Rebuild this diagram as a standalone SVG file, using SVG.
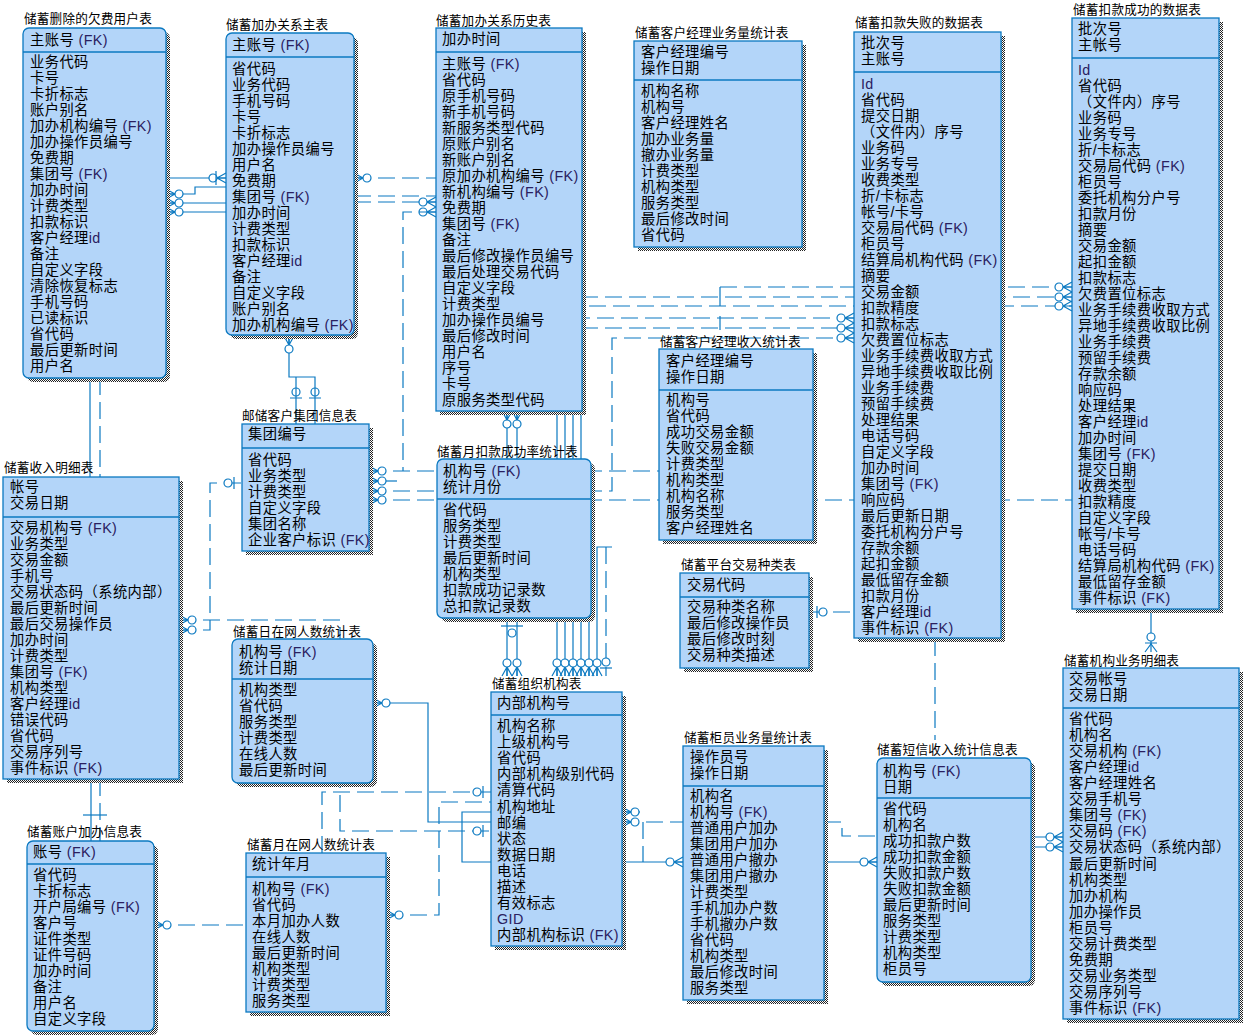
<svg xmlns="http://www.w3.org/2000/svg" xmlns:xlink="http://www.w3.org/1999/xlink" width="1244" height="1036" viewBox="0 0 1244 1036">
<style>
  text{font-family:"Liberation Sans","Noto Sans CJK SC",sans-serif;font-size:14.3px;letter-spacing:0.4px;fill:#000}
  .ttl{font-size:12.6px;letter-spacing:0.2px}
  .fk{fill:#2a2060}
  .bx{fill:#b3d5f9;stroke:#0b79c1;stroke-width:1.3}
  .sh{fill:url(#chk)}
  .sep{stroke:#0b79c1;stroke-width:1.3}
  .s{fill:none;stroke:#0b79c1;stroke-width:1.2}
  .d{fill:none;stroke:#0b79c1;stroke-width:1.2;stroke-dasharray:17 7}
</style>
<defs>
  <pattern id="chk" width="2" height="2" patternUnits="userSpaceOnUse">
    <rect width="2" height="2" fill="#fff"/>
    <rect width="1" height="1" fill="#222"/>
    <rect x="1" y="1" width="1" height="1" fill="#222"/>
  </pattern>
  <!-- zero-or-many: crow's foot at the entity edge, ring further out -->
  <g id="zm" fill="none" stroke="#0b79c1" stroke-width="1.2">
    <path d="M0,-5 L9,0 M0,5 L9,0 M0,0 H9"/>
    <circle cx="13" cy="0" r="4" fill="#fff"/>
  </g>
  <!-- zero-or-one: bar and ring -->
  <g id="zo" fill="none" stroke="#0b79c1" stroke-width="1.2">
    <path d="M8,-6 V6"/>
    <circle cx="14" cy="0" r="4" fill="#fff"/>
  </g>
</defs>
<rect width="1244" height="1036" fill="#fff"/>

<g id="connectors">
  <!-- 删除欠费用户表 / 加办关系主表 -->
  <path class="s" d="M166,178 H226"/>
  <use xlink:href="#zm" transform="translate(226,178) rotate(180)"/>
  <path class="s" d="M216,171 V185"/>
  <path class="s" d="M166,194 H195 V187 H226"/>
  <path class="s" d="M166,203 H226"/>
  <path class="s" d="M166,212 H226"/>
  <use xlink:href="#zm" transform="translate(166,194)"/>
  <use xlink:href="#zm" transform="translate(166,203)"/>
  <use xlink:href="#zm" transform="translate(166,212)"/>

  <!-- 加办关系主表 / 历史表 -->
  <path class="d" d="M354,178 H436"/>
  <use xlink:href="#zm" transform="translate(354,178)"/>
  <path class="d" d="M354,196 H436"/>
  <path class="d" d="M354,202 H436"/>
  <use xlink:href="#zm" transform="translate(436,202) rotate(180)"/>
  <use xlink:href="#zm" transform="translate(436,212) rotate(180)"/>
  <path class="d" d="M436,212 H403 V471"/>

  <!-- 加办关系主表 / 集团信息表 -->
  <path class="s" d="M289,336 V377 H315 V424 M296,377 V424"/>
  <use xlink:href="#zm" transform="translate(289,336) rotate(90)"/>
  <path class="s" d="M290,398 H302 M309,398 H321"/>
  <circle class="s" cx="296" cy="392" r="4" fill="#fff"/>
  <circle class="s" cx="315" cy="392" r="4" fill="#fff"/>

  <!-- 集团信息表 outgoing -->
  <path class="d" d="M369,471 H659"/>
  <path class="s" d="M369,481 H397"/>
  <path class="d" d="M369,491 H612 V338 H854"/>
  <path class="d" d="M369,500 H1072"/>
  <use xlink:href="#zm" transform="translate(369,471)"/>
  <use xlink:href="#zm" transform="translate(369,481)"/>
  <use xlink:href="#zm" transform="translate(369,491)"/>
  <use xlink:href="#zm" transform="translate(369,500)"/>

  <!-- 历史表 / 月扣款成功率统计表 -->
  <path class="s" d="M507,411 V459 M517,411 V459"/>
  <use xlink:href="#zm" transform="translate(507,411) rotate(90)"/>
  <use xlink:href="#zm" transform="translate(517,411) rotate(90)"/>

  <!-- 组织机构表 upward -->
  <path class="s" d="M507,618 V676 M517,618 V676"/>
  <path class="s" d="M501,626 H523"/>
  <circle cx="512" cy="633" r="4" fill="#fff" stroke="#0b79c1" stroke-width="1.2"/>
  <path class="s" d="M557,676 V297 M565,676 V306 M573,676 V318 M581,676 V328 M589,676 V618"/>
  <path class="d" d="M557,297 H1072 M565,306 H1072 M573,318 H854 M581,328 H854"/>
  <path class="d" d="M720,287 H1072"/>
  <path class="s" d="M720,287 V306 M720,316 V330"/>
  <path class="s" d="M597,676 V547 H612"/>
  <path class="d" d="M606,547 V676"/>
  <use xlink:href="#zm" transform="translate(507,676) rotate(-90)"/>
  <use xlink:href="#zm" transform="translate(517,676) rotate(-90)"/>
  <use xlink:href="#zm" transform="translate(557,676) rotate(-90)"/>
  <use xlink:href="#zm" transform="translate(565,676) rotate(-90)"/>
  <use xlink:href="#zm" transform="translate(573,676) rotate(-90)"/>
  <use xlink:href="#zm" transform="translate(581,676) rotate(-90)"/>
  <use xlink:href="#zm" transform="translate(589,676) rotate(-90)"/>
  <use xlink:href="#zm" transform="translate(597,676) rotate(-90)"/>
  <use xlink:href="#zo" transform="translate(606,676) rotate(-90)"/>
  <use xlink:href="#zm" transform="translate(854,318) rotate(180)"/>
  <use xlink:href="#zm" transform="translate(854,328) rotate(180)"/>
  <use xlink:href="#zm" transform="translate(854,338) rotate(180)"/>
  <use xlink:href="#zm" transform="translate(1072,287) rotate(180)"/>
  <use xlink:href="#zm" transform="translate(1072,297) rotate(180)"/>
  <use xlink:href="#zm" transform="translate(1072,306) rotate(180)"/>

  <!-- 平台交易种类表 -->
  <path class="d" d="M809,612 H854"/>
  <use xlink:href="#zo" transform="translate(809,612)"/>

  <!-- 扣款失败 / 短信收入 ; 扣款成功 / 机构业务明细 -->
  <path class="d" d="M935,639 V740"/>
  <path class="s" d="M1151,609 V652"/>
  <circle cx="1151" cy="637" r="4" fill="#fff" stroke="#0b79c1" stroke-width="1.2"/>
  <path class="s" d="M1145,652 L1151,644 L1157,652 M1145,643 H1157"/>

  <!-- 短信收入 / 机构业务明细 -->
  <path class="s" d="M1031,837 H1063 M1031,847 H1063"/>
  <use xlink:href="#zm" transform="translate(1063,837) rotate(180)"/>
  <use xlink:href="#zm" transform="translate(1063,847) rotate(180)"/>

  <!-- 柜员业务量 / 短信收入 -->
  <path class="s" d="M824,862 H877"/>
  <use xlink:href="#zm" transform="translate(877,862) rotate(180)"/>
  <path class="d" d="M824,822 H842 V836 H877"/>

  <!-- 组织机构表 / 柜员业务量 -->
  <path class="s" d="M622,812 H640"/>
  <path class="d" d="M622,822 H683"/>
  <path class="d" d="M643,822 V862"/>
  <path class="s" d="M622,862 H683"/>
  <use xlink:href="#zm" transform="translate(622,812)"/>
  <use xlink:href="#zm" transform="translate(622,822)"/>
  <use xlink:href="#zm" transform="translate(683,862) rotate(180)"/>

  <!-- 组织机构表 left side -->
  <path class="s" d="M373,703 H428 V822 H491"/>
  <use xlink:href="#zm" transform="translate(373,703)"/>
  <path class="s" d="M491,812 H462 V862 H491"/>
  <path class="d" d="M322,853 V792 H491"/>
  <path class="d" d="M179,620 H340 V831 H491"/>
  <use xlink:href="#zm" transform="translate(179,620)"/>
  <use xlink:href="#zo" transform="translate(491,792) rotate(180)"/>
  <use xlink:href="#zo" transform="translate(491,831) rotate(180)"/>
  <path class="d" d="M386,915 H439 V802 H491"/>
  <use xlink:href="#zm" transform="translate(386,915)"/>
  <path class="d" d="M154,925 H246"/>
  <use xlink:href="#zm" transform="translate(154,925)"/>

  <!-- 收入明细表 / 集团信息表 -->
  <path class="d" d="M179,630 H210 V483 H242"/>
  <use xlink:href="#zm" transform="translate(179,630)"/>
  <use xlink:href="#zo" transform="translate(242,483) rotate(180)"/>

  <!-- vertical links on the left column -->
  <path class="s" d="M90,378 V477 M91,779 V841"/>
  <path class="d" d="M100,378 V477 M100,779 V841"/>
  <path class="s" d="M83,815 H107"/>
</g>

<g id="t-del">
  <text class="ttl" x="24" y="22.5">储蓄删除的欠费用户表</text>
  <rect class="sh" x="27" y="32" width="143" height="350" rx="6"/>
  <rect class="bx" x="23" y="28" width="143" height="350" rx="6"/>
  <line class="sep" x1="23" y1="52" x2="166" y2="52"/>
  <text x="30" y="45">主账号 <tspan class="fk">(FK)</tspan></text>
  <text y="51">
    <tspan x="30" dy="16">业务代码</tspan><tspan x="30" dy="16">卡号</tspan><tspan x="30" dy="16">卡折标志</tspan><tspan x="30" dy="16">账户别名</tspan><tspan x="30" dy="16">加办机构编号 <tspan class="fk">(FK)</tspan></tspan><tspan x="30" dy="16">加办操作员编号</tspan><tspan x="30" dy="16">免费期</tspan><tspan x="30" dy="16">集团号 <tspan class="fk">(FK)</tspan></tspan><tspan x="30" dy="16">加办时间</tspan><tspan x="30" dy="16">计费类型</tspan><tspan x="30" dy="16">扣款标识</tspan><tspan x="30" dy="16">客户经理<tspan class="fk">id</tspan></tspan><tspan x="30" dy="16">备注</tspan><tspan x="30" dy="16">自定义字段</tspan><tspan x="30" dy="16">清除恢复标志</tspan><tspan x="30" dy="16">手机号码</tspan><tspan x="30" dy="16">已读标识</tspan><tspan x="30" dy="16">省代码</tspan><tspan x="30" dy="16">最后更新时间</tspan><tspan x="30" dy="16">用户名</tspan>
  </text>
</g>

<g id="t-main">
  <text class="ttl" x="226" y="28.5">储蓄加办关系主表</text>
  <rect class="sh" x="230" y="37" width="128" height="302" rx="6"/>
  <rect class="bx" x="226" y="33" width="128" height="302" rx="6"/>
  <line class="sep" x1="226" y1="57" x2="354" y2="57"/>
  <text x="232" y="50">主账号 <tspan class="fk">(FK)</tspan></text>
  <text y="58">
    <tspan x="232" dy="16">省代码</tspan><tspan x="232" dy="16">业务代码</tspan><tspan x="232" dy="16">手机号码</tspan><tspan x="232" dy="16">卡号</tspan><tspan x="232" dy="16">卡折标志</tspan><tspan x="232" dy="16">加办操作员编号</tspan><tspan x="232" dy="16">用户名</tspan><tspan x="232" dy="16">免费期</tspan><tspan x="232" dy="16">集团号 <tspan class="fk">(FK)</tspan></tspan><tspan x="232" dy="16">加办时间</tspan><tspan x="232" dy="16">计费类型</tspan><tspan x="232" dy="16">扣款标识</tspan><tspan x="232" dy="16">客户经理<tspan class="fk">id</tspan></tspan><tspan x="232" dy="16">备注</tspan><tspan x="232" dy="16">自定义字段</tspan><tspan x="232" dy="16">账户别名</tspan><tspan x="232" dy="16">加办机构编号 <tspan class="fk">(FK)</tspan></tspan>
  </text>
</g>

<g id="t-hist">
  <text class="ttl" x="436" y="24.5">储蓄加办关系历史表</text>
  <rect class="sh" x="440" y="32" width="146" height="383"/>
  <rect class="bx" x="436" y="28" width="146" height="383"/>
  <line class="sep" x1="436" y1="52" x2="582" y2="52"/>
  <text x="442" y="44">加办时间</text>
  <text y="53">
    <tspan x="442" dy="16">主账号 <tspan class="fk">(FK)</tspan></tspan><tspan x="442" dy="16">省代码</tspan><tspan x="442" dy="16">原手机号码</tspan><tspan x="442" dy="16">新手机号码</tspan><tspan x="442" dy="16">新服务类型代码</tspan><tspan x="442" dy="16">原账户别名</tspan><tspan x="442" dy="16">新账户别名</tspan><tspan x="442" dy="16">原加办机构编号 <tspan class="fk">(FK)</tspan></tspan><tspan x="442" dy="16">新机构编号 <tspan class="fk">(FK)</tspan></tspan><tspan x="442" dy="16">免费期</tspan><tspan x="442" dy="16">集团号 <tspan class="fk">(FK)</tspan></tspan><tspan x="442" dy="16">备注</tspan><tspan x="442" dy="16">最后修改操作员编号</tspan><tspan x="442" dy="16">最后处理交易代码</tspan><tspan x="442" dy="16">自定义字段</tspan><tspan x="442" dy="16">计费类型</tspan><tspan x="442" dy="16">加办操作员编号</tspan><tspan x="442" dy="16">最后修改时间</tspan><tspan x="442" dy="16">用户名</tspan><tspan x="442" dy="16">序号</tspan><tspan x="442" dy="16">卡号</tspan><tspan x="442" dy="16">原服务类型代码</tspan>
  </text>
</g>

<g id="t-mgr-vol">
  <text class="ttl" x="635" y="36.5">储蓄客户经理业务量统计表</text>
  <rect class="sh" x="638" y="45" width="168" height="206"/>
  <rect class="bx" x="634" y="41" width="168" height="206"/>
  <line class="sep" x1="634" y1="80" x2="802" y2="80"/>
  <text y="41"><tspan x="641" dy="16">客户经理编号</tspan><tspan x="641" dy="16">操作日期</tspan></text>
  <text y="80">
    <tspan x="641" dy="16">机构名称</tspan><tspan x="641" dy="16">机构号</tspan><tspan x="641" dy="16">客户经理姓名</tspan><tspan x="641" dy="16">加办业务量</tspan><tspan x="641" dy="16">撤办业务量</tspan><tspan x="641" dy="16">计费类型</tspan><tspan x="641" dy="16">机构类型</tspan><tspan x="641" dy="16">服务类型</tspan><tspan x="641" dy="16">最后修改时间</tspan><tspan x="641" dy="16">省代码</tspan>
  </text>
</g>

<g id="t-fail">
  <text class="ttl" x="855" y="26.5">储蓄扣款失败的数据表</text>
  <rect class="sh" x="858" y="36" width="147" height="606"/>
  <rect class="bx" x="854" y="32" width="147" height="606"/>
  <line class="sep" x1="854" y1="72" x2="1001" y2="72"/>
  <text y="32"><tspan x="861" dy="16">批次号</tspan><tspan x="861" dy="16">主账号</tspan></text>
  <text y="73">
    <tspan x="861" dy="16" class="fk">Id</tspan><tspan x="861" dy="16">省代码</tspan><tspan x="861" dy="16">提交日期</tspan><tspan x="861" dy="16">（文件内）序号</tspan><tspan x="861" dy="16">业务码</tspan><tspan x="861" dy="16">业务专号</tspan><tspan x="861" dy="16">收费类型</tspan><tspan x="861" dy="16">折/卡标志</tspan><tspan x="861" dy="16">帐号/卡号</tspan><tspan x="861" dy="16">交易局代码 <tspan class="fk">(FK)</tspan></tspan><tspan x="861" dy="16">柜员号</tspan><tspan x="861" dy="16">结算局机构代码 <tspan class="fk">(FK)</tspan></tspan><tspan x="861" dy="16">摘要</tspan><tspan x="861" dy="16">交易金额</tspan><tspan x="861" dy="16">扣款精度</tspan><tspan x="861" dy="16">扣款标志</tspan><tspan x="861" dy="16">欠费置位标志</tspan><tspan x="861" dy="16">业务手续费收取方式</tspan><tspan x="861" dy="16">异地手续费收取比例</tspan><tspan x="861" dy="16">业务手续费</tspan><tspan x="861" dy="16">预留手续费</tspan><tspan x="861" dy="16">处理结果</tspan><tspan x="861" dy="16">电话号码</tspan><tspan x="861" dy="16">自定义字段</tspan><tspan x="861" dy="16">加办时间</tspan><tspan x="861" dy="16">集团号 <tspan class="fk">(FK)</tspan></tspan><tspan x="861" dy="16">响应码</tspan><tspan x="861" dy="16">最后更新日期</tspan><tspan x="861" dy="16">委托机构分户号</tspan><tspan x="861" dy="16">存款余额</tspan><tspan x="861" dy="16">起扣金额</tspan><tspan x="861" dy="16">最低留存金额</tspan><tspan x="861" dy="16">扣款月份</tspan><tspan x="861" dy="16">客户经理<tspan class="fk">id</tspan></tspan><tspan x="861" dy="16">事件标识 <tspan class="fk">(FK)</tspan></tspan>
  </text>
</g>

<g id="t-ok">
  <text class="ttl" x="1073" y="13.5">储蓄扣款成功的数据表</text>
  <rect class="sh" x="1076" y="22" width="147" height="591"/>
  <rect class="bx" x="1072" y="18" width="147" height="591"/>
  <line class="sep" x1="1072" y1="58" x2="1219" y2="58"/>
  <text y="18"><tspan x="1078" dy="16">批次号</tspan><tspan x="1078" dy="16">主帐号</tspan></text>
  <text y="59">
    <tspan x="1078" dy="16" class="fk">Id</tspan><tspan x="1078" dy="16">省代码</tspan><tspan x="1078" dy="16">（文件内）序号</tspan><tspan x="1078" dy="16">业务码</tspan><tspan x="1078" dy="16">业务专号</tspan><tspan x="1078" dy="16">折/卡标志</tspan><tspan x="1078" dy="16">交易局代码 <tspan class="fk">(FK)</tspan></tspan><tspan x="1078" dy="16">柜员号</tspan><tspan x="1078" dy="16">委托机构分户号</tspan><tspan x="1078" dy="16">扣款月份</tspan><tspan x="1078" dy="16">摘要</tspan><tspan x="1078" dy="16">交易金额</tspan><tspan x="1078" dy="16">起扣金额</tspan><tspan x="1078" dy="16">扣款标志</tspan><tspan x="1078" dy="16">欠费置位标志</tspan><tspan x="1078" dy="16">业务手续费收取方式</tspan><tspan x="1078" dy="16">异地手续费收取比例</tspan><tspan x="1078" dy="16">业务手续费</tspan><tspan x="1078" dy="16">预留手续费</tspan><tspan x="1078" dy="16">存款余额</tspan><tspan x="1078" dy="16">响应码</tspan><tspan x="1078" dy="16">处理结果</tspan><tspan x="1078" dy="16">客户经理<tspan class="fk">id</tspan></tspan><tspan x="1078" dy="16">加办时间</tspan><tspan x="1078" dy="16">集团号 <tspan class="fk">(FK)</tspan></tspan><tspan x="1078" dy="16">提交日期</tspan><tspan x="1078" dy="16">收费类型</tspan><tspan x="1078" dy="16">扣款精度</tspan><tspan x="1078" dy="16">自定义字段</tspan><tspan x="1078" dy="16">帐号/卡号</tspan><tspan x="1078" dy="16">电话号码</tspan><tspan x="1078" dy="16">结算局机构代码 <tspan class="fk">(FK)</tspan></tspan><tspan x="1078" dy="16">最低留存金额</tspan><tspan x="1078" dy="16">事件标识 <tspan class="fk">(FK)</tspan></tspan>
  </text>
</g>

<g id="t-income">
  <text class="ttl" x="4" y="471.5">储蓄收入明细表</text>
  <rect class="sh" x="7" y="481" width="176" height="302"/>
  <rect class="bx" x="3" y="477" width="176" height="302"/>
  <line class="sep" x1="3" y1="517" x2="179" y2="517"/>
  <text y="476"><tspan x="10" dy="16">帐号</tspan><tspan x="10" dy="16">交易日期</tspan></text>
  <text y="517">
    <tspan x="10" dy="16">交易机构号 <tspan class="fk">(FK)</tspan></tspan><tspan x="10" dy="16">业务类型</tspan><tspan x="10" dy="16">交易金额</tspan><tspan x="10" dy="16">手机号</tspan><tspan x="10" dy="16">交易状态码（系统内部）</tspan><tspan x="10" dy="16">最后更新时间</tspan><tspan x="10" dy="16">最后交易操作员</tspan><tspan x="10" dy="16">加办时间</tspan><tspan x="10" dy="16">计费类型</tspan><tspan x="10" dy="16">集团号 <tspan class="fk">(FK)</tspan></tspan><tspan x="10" dy="16">机构类型</tspan><tspan x="10" dy="16">客户经理<tspan class="fk">id</tspan></tspan><tspan x="10" dy="16">错误代码</tspan><tspan x="10" dy="16">省代码</tspan><tspan x="10" dy="16">交易序列号</tspan><tspan x="10" dy="16">事件标识 <tspan class="fk">(FK)</tspan></tspan>
  </text>
</g>

<g id="t-group">
  <text class="ttl" x="242" y="419.5">邮储客户集团信息表</text>
  <rect class="sh" x="246" y="428" width="127" height="127"/>
  <rect class="bx" x="242" y="424" width="127" height="127"/>
  <line class="sep" x1="242" y1="448" x2="369" y2="448"/>
  <text x="248" y="439">集团编号</text>
  <text y="449">
    <tspan x="248" dy="16">省代码</tspan><tspan x="248" dy="16">业务类型</tspan><tspan x="248" dy="16">计费类型</tspan><tspan x="248" dy="16">自定义字段</tspan><tspan x="248" dy="16">集团名称</tspan><tspan x="248" dy="16">企业客户标识 <tspan class="fk">(FK)</tspan></tspan>
  </text>
</g>

<g id="t-rate">
  <text class="ttl" x="437" y="455.5">储蓄月扣款成功率统计表</text>
  <rect class="sh" x="441" y="463" width="154" height="159" rx="6"/>
  <rect class="bx" x="437" y="459" width="154" height="159" rx="6"/>
  <line class="sep" x1="437" y1="499" x2="591" y2="499"/>
  <text y="460"><tspan x="443" dy="16">机构号 <tspan class="fk">(FK)</tspan></tspan><tspan x="443" dy="16">统计月份</tspan></text>
  <text y="499">
    <tspan x="443" dy="16">省代码</tspan><tspan x="443" dy="16">服务类型</tspan><tspan x="443" dy="16">计费类型</tspan><tspan x="443" dy="16">最后更新时间</tspan><tspan x="443" dy="16">机构类型</tspan><tspan x="443" dy="16">扣款成功记录数</tspan><tspan x="443" dy="16">总扣款记录数</tspan>
  </text>
</g>

<g id="t-mgr-inc">
  <text class="ttl" x="660" y="345.5">储蓄客户经理收入统计表</text>
  <rect class="sh" x="663" y="353" width="154" height="191"/>
  <rect class="bx" x="659" y="349" width="154" height="191"/>
  <line class="sep" x1="659" y1="390" x2="813" y2="390"/>
  <text y="350"><tspan x="666" dy="16">客户经理编号</tspan><tspan x="666" dy="16">操作日期</tspan></text>
  <text y="389">
    <tspan x="666" dy="16">机构号</tspan><tspan x="666" dy="16">省代码</tspan><tspan x="666" dy="16">成功交易金额</tspan><tspan x="666" dy="16">失败交易金额</tspan><tspan x="666" dy="16">计费类型</tspan><tspan x="666" dy="16">机构类型</tspan><tspan x="666" dy="16">机构名称</tspan><tspan x="666" dy="16">服务类型</tspan><tspan x="666" dy="16">客户经理姓名</tspan>
  </text>
</g>

<g id="t-trade">
  <text class="ttl" x="681" y="568.5">储蓄平台交易种类表</text>
  <rect class="sh" x="684" y="577" width="129" height="95"/>
  <rect class="bx" x="680" y="573" width="129" height="95"/>
  <line class="sep" x1="680" y1="597" x2="809" y2="597"/>
  <text x="687" y="590">交易代码</text>
  <text y="596">
    <tspan x="687" dy="16">交易种类名称</tspan><tspan x="687" dy="16">最后修改操作员</tspan><tspan x="687" dy="16">最后修改时刻</tspan><tspan x="687" dy="16">交易种类描述</tspan>
  </text>
</g>

<g id="t-day">
  <text class="ttl" x="233" y="635.5">储蓄日在网人数统计表</text>
  <rect class="sh" x="236" y="643" width="141" height="144" rx="6"/>
  <rect class="bx" x="232" y="639" width="141" height="144" rx="6"/>
  <line class="sep" x1="232" y1="679" x2="373" y2="679"/>
  <text y="640.5"><tspan x="239" dy="16">机构号 <tspan class="fk">(FK)</tspan></tspan><tspan x="239" dy="16">统计日期</tspan></text>
  <text y="679">
    <tspan x="239" dy="16">机构类型</tspan><tspan x="239" dy="16">省代码</tspan><tspan x="239" dy="16">服务类型</tspan><tspan x="239" dy="16">计费类型</tspan><tspan x="239" dy="16">在线人数</tspan><tspan x="239" dy="16">最后更新时间</tspan>
  </text>
</g>

<g id="t-acct">
  <text class="ttl" x="27" y="835.5">储蓄账户加办信息表</text>
  <rect class="sh" x="31" y="845" width="127" height="190" rx="6"/>
  <rect class="bx" x="27" y="841" width="127" height="190" rx="6"/>
  <line class="sep" x1="27" y1="864" x2="154" y2="864"/>
  <text x="33" y="857">账号 <tspan class="fk">(FK)</tspan></text>
  <text y="864">
    <tspan x="33" dy="16">省代码</tspan><tspan x="33" dy="16">卡折标志</tspan><tspan x="33" dy="16">开户局编号 <tspan class="fk">(FK)</tspan></tspan><tspan x="33" dy="16">客户号</tspan><tspan x="33" dy="16">证件类型</tspan><tspan x="33" dy="16">证件号码</tspan><tspan x="33" dy="16">加办时间</tspan><tspan x="33" dy="16">备注</tspan><tspan x="33" dy="16">用户名</tspan><tspan x="33" dy="16">自定义字段</tspan>
  </text>
</g>

<g id="t-month">
  <text class="ttl" x="247" y="848.5">储蓄月在网人数统计表</text>
  <rect class="sh" x="250" y="857" width="140" height="159"/>
  <rect class="bx" x="246" y="853" width="140" height="159"/>
  <line class="sep" x1="246" y1="877" x2="386" y2="877"/>
  <text x="252" y="869">统计年月</text>
  <text y="878">
    <tspan x="252" dy="16">机构号 <tspan class="fk">(FK)</tspan></tspan><tspan x="252" dy="16">省代码</tspan><tspan x="252" dy="16">本月加办人数</tspan><tspan x="252" dy="16">在线人数</tspan><tspan x="252" dy="16">最后更新时间</tspan><tspan x="252" dy="16">机构类型</tspan><tspan x="252" dy="16">计费类型</tspan><tspan x="252" dy="16">服务类型</tspan>
  </text>
</g>

<g id="t-org">
  <text class="ttl" x="492" y="687.5">储蓄组织机构表</text>
  <rect class="sh" x="495" y="696" width="131" height="254"/>
  <rect class="bx" x="491" y="692" width="131" height="254"/>
  <line class="sep" x1="491" y1="715" x2="622" y2="715"/>
  <text x="497" y="708">内部机构号</text>
  <text y="715">
    <tspan x="497" dy="16">机构名称</tspan><tspan x="497" dy="16.1">上级机构号</tspan><tspan x="497" dy="16.1">省代码</tspan><tspan x="497" dy="16.1">内部机构级别代码</tspan><tspan x="497" dy="16.1">清算代码</tspan><tspan x="497" dy="16.1">机构地址</tspan><tspan x="497" dy="16.1">邮编</tspan><tspan x="497" dy="16.1">状态</tspan><tspan x="497" dy="16.1">数据日期</tspan><tspan x="497" dy="16.1">电话</tspan><tspan x="497" dy="16.1">描述</tspan><tspan x="497" dy="16.1">有效标志</tspan><tspan x="497" dy="16.1" class="fk">GID</tspan><tspan x="497" dy="16.1">内部机构标识 <tspan class="fk">(FK)</tspan></tspan>
  </text>
</g>

<g id="t-teller">
  <text class="ttl" x="684" y="741.5">储蓄柜员业务量统计表</text>
  <rect class="sh" x="687" y="750" width="141" height="254"/>
  <rect class="bx" x="683" y="746" width="141" height="254"/>
  <line class="sep" x1="683" y1="786" x2="824" y2="786"/>
  <text y="745.5"><tspan x="690" dy="16">操作员号</tspan><tspan x="690" dy="16">操作日期</tspan></text>
  <text y="785">
    <tspan x="690" dy="16">机构名</tspan><tspan x="690" dy="16">机构号 <tspan class="fk">(FK)</tspan></tspan><tspan x="690" dy="16">普通用户加办</tspan><tspan x="690" dy="16">集团用户加办</tspan><tspan x="690" dy="16">普通用户撤办</tspan><tspan x="690" dy="16">集团用户撤办</tspan><tspan x="690" dy="16">计费类型</tspan><tspan x="690" dy="16">手机加办户数</tspan><tspan x="690" dy="16">手机撤办户数</tspan><tspan x="690" dy="16">省代码</tspan><tspan x="690" dy="16">机构类型</tspan><tspan x="690" dy="16">最后修改时间</tspan><tspan x="690" dy="16">服务类型</tspan>
  </text>
</g>

<g id="t-sms">
  <text class="ttl" x="877" y="753.5">储蓄短信收入统计信息表</text>
  <rect class="sh" x="881" y="762" width="154" height="224" rx="6"/>
  <rect class="bx" x="877" y="758" width="154" height="224" rx="6"/>
  <line class="sep" x1="877" y1="798" x2="1031" y2="798"/>
  <text y="759.5"><tspan x="883" dy="16">机构号 <tspan class="fk">(FK)</tspan></tspan><tspan x="883" dy="16">日期</tspan></text>
  <text y="798">
    <tspan x="883" dy="16">省代码</tspan><tspan x="883" dy="16">机构名</tspan><tspan x="883" dy="16">成功扣款户数</tspan><tspan x="883" dy="16">成功扣款金额</tspan><tspan x="883" dy="16">失败扣款户数</tspan><tspan x="883" dy="16">失败扣款金额</tspan><tspan x="883" dy="16">最后更新时间</tspan><tspan x="883" dy="16">服务类型</tspan><tspan x="883" dy="16">计费类型</tspan><tspan x="883" dy="16">机构类型</tspan><tspan x="883" dy="16">柜员号</tspan>
  </text>
</g>

<g id="t-orgdetail">
  <text class="ttl" x="1064" y="664.5">储蓄机构业务明细表</text>
  <rect class="sh" x="1067" y="672" width="176" height="351"/>
  <rect class="bx" x="1063" y="668" width="176" height="351"/>
  <line class="sep" x1="1063" y1="708" x2="1239" y2="708"/>
  <text y="668"><tspan x="1069" dy="16">交易帐号</tspan><tspan x="1069" dy="16">交易日期</tspan></text>
  <text y="708">
    <tspan x="1069" dy="16">省代码</tspan><tspan x="1069" dy="16.06">机构名</tspan><tspan x="1069" dy="16.06">交易机构 <tspan class="fk">(FK)</tspan></tspan><tspan x="1069" dy="16.06">客户经理<tspan class="fk">id</tspan></tspan><tspan x="1069" dy="16.06">客户经理姓名</tspan><tspan x="1069" dy="16.06">交易手机号</tspan><tspan x="1069" dy="16.06">集团号 <tspan class="fk">(FK)</tspan></tspan><tspan x="1069" dy="16.06">交易码 <tspan class="fk">(FK)</tspan></tspan><tspan x="1069" dy="16.06">交易状态码（系统内部）</tspan><tspan x="1069" dy="16.06">最后更新时间</tspan><tspan x="1069" dy="16.06">机构类型</tspan><tspan x="1069" dy="16.06">加办机构</tspan><tspan x="1069" dy="16.06">加办操作员</tspan><tspan x="1069" dy="16.06">柜员号</tspan><tspan x="1069" dy="16.06">交易计费类型</tspan><tspan x="1069" dy="16.06">免费期</tspan><tspan x="1069" dy="16.06">交易业务类型</tspan><tspan x="1069" dy="16.06">交易序列号</tspan><tspan x="1069" dy="16.06">事件标识 <tspan class="fk">(FK)</tspan></tspan>
  </text>
</g>
</svg>
